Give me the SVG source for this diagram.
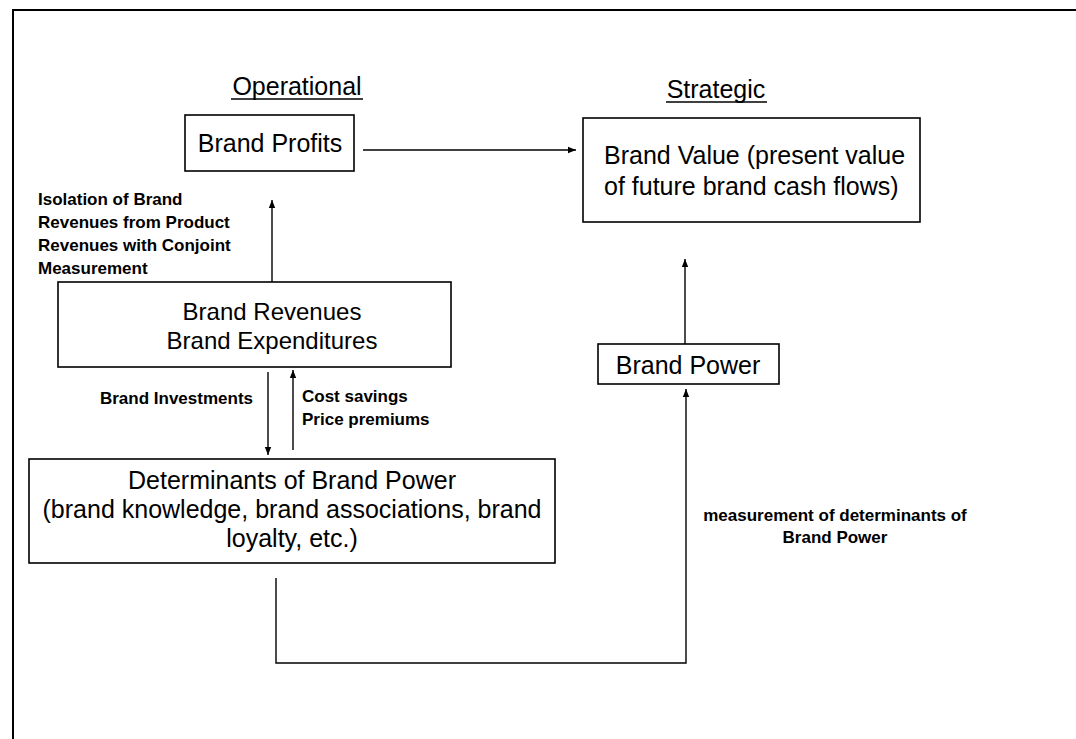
<svg xmlns="http://www.w3.org/2000/svg" width="1076" height="739" viewBox="0 0 1076 739">
<style>
.box{fill:#fff;stroke:#000;stroke-width:1.6}
.main{font-family:"Liberation Sans",Arial,sans-serif;font-size:25px;fill:#000}
.lbl{font-family:"Liberation Sans",Arial,sans-serif;font-size:17px;font-weight:bold;fill:#000}
.con{fill:none;stroke:#000;stroke-width:1.4}
.frame{fill:none;stroke:#000;stroke-width:2}
</style>
<defs>
<marker id="ah" viewBox="0 0 10 10" refX="10" refY="5" markerWidth="8" markerHeight="8" markerUnits="userSpaceOnUse" orient="auto">
<path d="M0,1 L10,5 L0,9 Z" fill="#000"/>
</marker>
</defs>
<rect width="1076" height="739" fill="#fff"/>
<path class="frame" d="M13,745 L13,10 L1080,10"/>
<g id="headers">
<text class="main" x="297" y="95" text-anchor="middle">Operational</text>
<line x1="231" y1="99" x2="363" y2="99" stroke="#000" stroke-width="1.5"/>
<text class="main" x="716" y="98" text-anchor="middle">Strategic</text>
<line x1="666" y1="102" x2="767" y2="102" stroke="#000" stroke-width="1.5"/>
</g>
<g id="brand-profits">
<rect class="box" x="185" y="115" width="169" height="56"/>
<text class="main" x="270" y="152" text-anchor="middle">Brand Profits</text>
</g>
<g id="brand-value">
<rect class="box" x="583" y="118" width="337" height="104"/>
<text class="main" x="604" y="164">Brand Value (present value</text>
<text class="main" x="604" y="195">of future brand cash flows)</text>
</g>
<g id="brand-revenues">
<rect class="box" x="58" y="282" width="393" height="85"/>
<text class="main" x="272" y="320" text-anchor="middle" style="font-size:24px">Brand Revenues</text>
<text class="main" x="272" y="349" text-anchor="middle" style="font-size:24px">Brand Expenditures</text>
</g>
<g id="brand-power">
<rect class="box" x="598" y="344" width="181" height="40"/>
<text class="main" x="688" y="374" text-anchor="middle">Brand Power</text>
</g>
<g id="determinants">
<rect class="box" x="29" y="459" width="526" height="104"/>
<text class="main" x="292" y="489" text-anchor="middle">Determinants of Brand Power</text>
<text class="main" x="292" y="518" text-anchor="middle">(brand knowledge, brand associations, brand</text>
<text class="main" x="292" y="547" text-anchor="middle">loyalty, etc.)</text>
</g>
<g id="labels">
<text class="lbl" x="38" y="205">Isolation of Brand</text>
<text class="lbl" x="38" y="228">Revenues from Product</text>
<text class="lbl" x="38" y="251">Revenues with Conjoint</text>
<text class="lbl" x="38" y="274">Measurement</text>
<text class="lbl" x="253" y="404" text-anchor="end">Brand Investments</text>
<text class="lbl" x="302" y="402">Cost savings</text>
<text class="lbl" x="302" y="425">Price premiums</text>
<text class="lbl" x="835" y="521" text-anchor="middle">measurement of determinants of</text>
<text class="lbl" x="835" y="543" text-anchor="middle">Brand Power</text>
</g>
<g id="connectors">
<line class="con" x1="363" y1="150" x2="576" y2="150" marker-end="url(#ah)"/>
<line class="con" x1="272" y1="282" x2="272" y2="200" marker-end="url(#ah)"/>
<line class="con" x1="268" y1="372" x2="268" y2="455" marker-end="url(#ah)"/>
<line class="con" x1="293" y1="450" x2="293" y2="370" marker-end="url(#ah)"/>
<line class="con" x1="685" y1="344" x2="685" y2="259" marker-end="url(#ah)"/>
<polyline class="con" points="276,578 276,663 686,663 686,389" marker-end="url(#ah)"/>
</g>
</svg>
